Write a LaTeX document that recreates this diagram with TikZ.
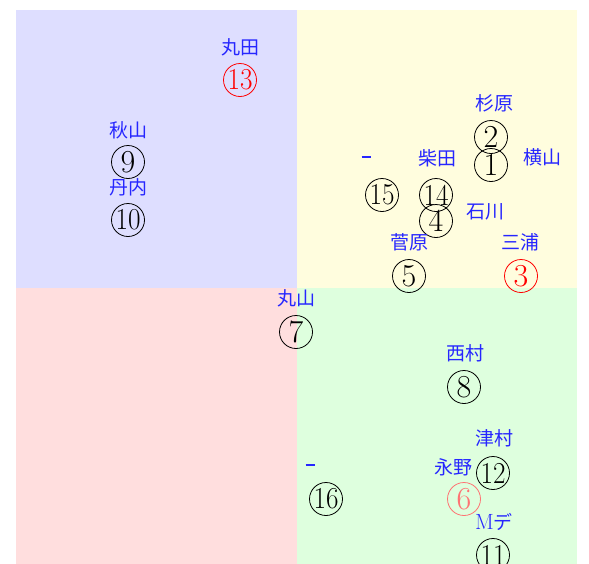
\documentclass[tikz,border=0pt]{standalone}
\usepackage{fontspec}
\newfontfamily\jp{Noto Sans CJK JP}
\usetikzlibrary{positioning}
\tikzset{
  num/.style={circle, draw, line width=0.8pt, minimum size=33pt, inner sep=0pt, font=\fontsize{32}{32}\selectfont},
  lbl/.style={draw=none, fill=none, inner sep=0pt, anchor=center, text=blue!85, font=\jp\fontsize{19}{19}\selectfont}
}
\begin{document}
\begin{tikzpicture}[x=1pt, y=-1pt]
  \useasboundingbox (0,0) rectangle (589,563);

  % quadrants
  \fill[blue!13]   (16,10)   rectangle (297,288);
  \fill[yellow!13] (297,10)  rectangle (577,288);
  \fill[red!13]    (16,288)  rectangle (297,571);
  \fill[green!13]  (297,288) rectangle (577,571);

  % players
  \foreach \i/\x/\y/\c in {1/491/165/black, 2/491/137/black, 3/521/276/red,
      4/436/221/black, 5/409/276/black, 6/464/499/red!55,
      7/296/332/black, 8/464/387/black, 9/128/162/black,
      10/128/220/black, 11/493/555/black, 12/493/473/black,
      13/240/80/red, 14/436/195/black, 15/382/195/black, 16/326/499/black} {
    \node[num, draw=\c, text=\c] (p\i) at (\x,\y)
      {\makebox[0pt]{\ifnum\i>9 \scalebox{0.85}[0.95]{\i}\else\i\fi}};
  }

  % names
  \foreach \i/\x/\y/\t in {1/542/157/横山, 2/494/103/杉原, 3/520/242/三浦,
      4/485/212/石川, 5/409/242/菅原, 6/453/467/永野,
      7/296/298/丸山, 8/465/353/西村, 9/128/130/秋山,
      10/128/187/丹内, 11/494/522/{{\rmfamily\fontsize{22}{22}\selectfont M}デ}, 12/494/438/津村,
      13/240/47/丸田, 14/437/158/柴田, 15/366/157/{\rule{9pt}{1.2pt}}, 16/310/465/{\rule{9pt}{1.2pt}}} {
    \node[lbl] (l\i) at (\x,\y) {\t};
  }
\end{tikzpicture}
\end{document}
